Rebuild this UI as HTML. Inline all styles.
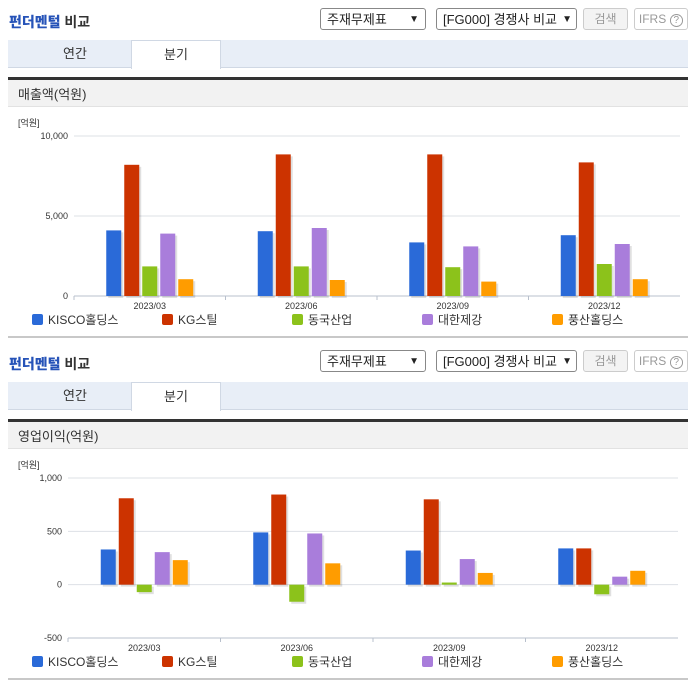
<!DOCTYPE html>
<html><head><meta charset="utf-8">
<style>
body{margin:0;width:696px;height:684px;background:#fff;font-family:"Liberation Sans","Noto Sans CJK KR",sans-serif;overflow:hidden;position:relative}
.abs{position:absolute}
.title{font-size:14px;font-weight:bold;color:#333}
.title b{color:#2653b8}
.sel{border:1px solid #888;border-radius:3px;height:22px;font-size:13px;color:#222;line-height:22px;padding-left:6px;box-sizing:border-box;background:#fff}
.btn{border:1px solid #ccc;border-radius:3px;height:22px;font-size:12px;color:#999;line-height:20px;text-align:center;box-sizing:border-box;background:#f3f3f3}
.tabbar{left:8px;width:680px;height:28px;background:#e8eef7;border-bottom:1px solid #d0d8e4;box-sizing:border-box}
.tab{font-size:13px;color:#333;text-align:center;line-height:28px;height:28px}
.hdr{left:8px;width:680px;height:30px;background:#f2f2f2;border-top:3px solid #333;border-bottom:1px solid #e2e2e2;font-size:13px;color:#333;line-height:30px;padding-left:10px;box-sizing:border-box}
svg text{font-family:"Liberation Sans","Noto Sans CJK KR",sans-serif}
</style></head><body>
<div id="panels"></div>
<script>
const series = ["KISCO홀딩스","KG스틸","동국산업","대한제강","풍산홀딩스"];
const colors = ["#2a6ad8","#cc3300","#8cc21b","#a97ddb","#ff9c00"];
const categories = ["2023/03","2023/06","2023/09","2023/12"];
const salesKisco = [4100,4050,3350,3800];
const salesKg = [8200,8850,8850,8350];
const salesDongkuk = [1850,1850,1800,2000];
const salesDaehan = [3900,4250,3100,3250];
const salesPoongsan = [1050,1000,900,1050];
const salesTicks = [0,5000,10000];
const salesTickLabels = ["0","5,000","10,000"];
const opKisco = [330,490,320,340];
const opKg = [810,845,800,340];
const opDongkuk = [-70,-160,20,-90];
const opDaehan = [305,480,240,75];
const opPoongsan = [230,200,110,130];
const opTicks = [-500,0,500,1000];
const opTickLabels = ["-500","0","500","1,000"];

const NS="http://www.w3.org/2000/svg";
function el(tag,attrs,parent){const e=document.createElementNS(NS,tag);for(const k in attrs)e.setAttribute(k,attrs[k]);parent.appendChild(e);return e;}
function div(cls,style,html,parent){const d=document.createElement('div');d.className='abs '+cls;d.style.cssText=style;d.innerHTML=html;parent.appendChild(d);return d;}

function panel(off,hdrText,data,ticks,tickLabels,ymin,ymax,yTop,yBot,x0,x1){
  const root=document.getElementById('panels');
  const t=div('title',`left:9px;top:${off+12}px`,'<b>펀더멘털</b> 비교',root);
  
  
  const s1=div('sel',`left:320px;top:${off+8}px;width:106px`,'주재무제표<span style="position:absolute;right:6px;font-size:10px">&#9660;</span>',root);
  
  
  const s2=div('sel',`left:436px;top:${off+8}px;width:141px`,'[FG000] 경쟁사 비교<span style="position:absolute;right:4px;font-size:10px">&#9660;</span>',root);
  
  
  const b=div('btn',`left:583px;top:${off+8}px;width:45px`,'검색',root);
  
  
  const b2=div('btn',`left:634px;top:${off+8}px;width:54px;background:#fff`,'IFRS <span style="border:1px solid #999;border-radius:50%;font-size:10px;padding:0 3px">?</span>',root);
  
  
  const tb=div('tabbar',`top:${off+40}px`,'',root);
  
  
  const ta=div('tab',`left:30px;top:${off+40}px;width:90px`,'연간',root);
  
  
  const tq=div('tab',`left:131px;top:${off+40}px;width:90px;background:#fff;border:1px solid #d0d8e4;border-bottom:none;box-sizing:border-box;height:29px`,'분기',root);
  
  
  const h=div('hdr',`top:${off+77}px`,hdrText,root);
  
  

  const svg=document.createElementNS(NS,'svg');
  svg.setAttribute('width','696');svg.setAttribute('height','230');
  svg.style.cssText=`position:absolute;left:0;top:${off+110}px`;
  
  
  root.appendChild(svg);
  const oy=off+110;
  const y=v=>yBot-oy-(v-ymin)/(ymax-ymin)*(yBot-yTop);
  const cw=(x1-x0)/categories.length;
  const unit=el('text',{x:18,y:16,'font-size':9,fill:'#333'},svg);unit.textContent='[억원]';
  
  
  ticks.forEach((tv,i)=>{
    const g=el('line',{x1:x0,x2:x1,y1:y(tv),y2:y(tv),stroke:'#dde0e6','stroke-width':1},svg);
    
    
    const tx=el('text',{x:x0-6,y:y(tv)+3,'font-size':9,fill:'#333','text-anchor':'end'},svg);tx.textContent=tickLabels[i];
    
    
  });
  const axY=y(ymin);
  const ax=el('line',{x1:x0,x2:x1,y1:axY,y2:axY,stroke:'#b8c0cc'},svg);
  
  
  const bw=15,gap=3,gw=5*bw+4*gap;
  categories.forEach((c,ci)=>{
    const cx=x0+cw*(ci+0.5);
    const tk=el('line',{x1:x0+cw*ci,x2:x0+cw*ci,y1:axY,y2:axY+4,stroke:'#b8c0cc'},svg);
    
    
    const lb=el('text',{x:cx,y:axY+13,'font-size':9,fill:'#333','text-anchor':'middle'},svg);lb.textContent=c;
    
    
    data.forEach((arr,si)=>{
      const v=arr[ci];const bx=cx-gw/2+si*(bw+gap);
      const top=Math.min(y(v),y(0)),hh=Math.abs(y(v)-y(0));
      const sh=el('rect',{x:bx+2,y:top+2,width:bw,height:hh,fill:'#000','fill-opacity':0.12},svg);
      
      
      const r=el('rect',{x:bx,y:top,width:bw,height:hh,fill:colors[si]},svg);
      
      
    });
  });
  const ly=axY+27;
  series.forEach((s,i)=>{
    const lx=32+i*130;
    const sq=el('rect',{x:lx,y:ly-9,width:11,height:11,rx:2,fill:colors[i]},svg);
    
    
    const lt=el('text',{x:lx+16,y:ly+1,'font-size':12,fill:'#333'},svg);lt.textContent=s;
    
    
  });
  const bl=div('',`left:8px;top:${off+336}px;width:680px;height:2px;background:#c8c8c8`,'',root);
  
  
}
panel(0,'매출액(억원)',[salesKisco,salesKg,salesDongkuk,salesDaehan,salesPoongsan],salesTicks,salesTickLabels,0,10000,136,296,74,680);
panel(342,'영업이익(억원)',[opKisco,opKg,opDongkuk,opDaehan,opPoongsan],opTicks,opTickLabels,-500,1000,478,638,68,678);
</script>
</body></html>
